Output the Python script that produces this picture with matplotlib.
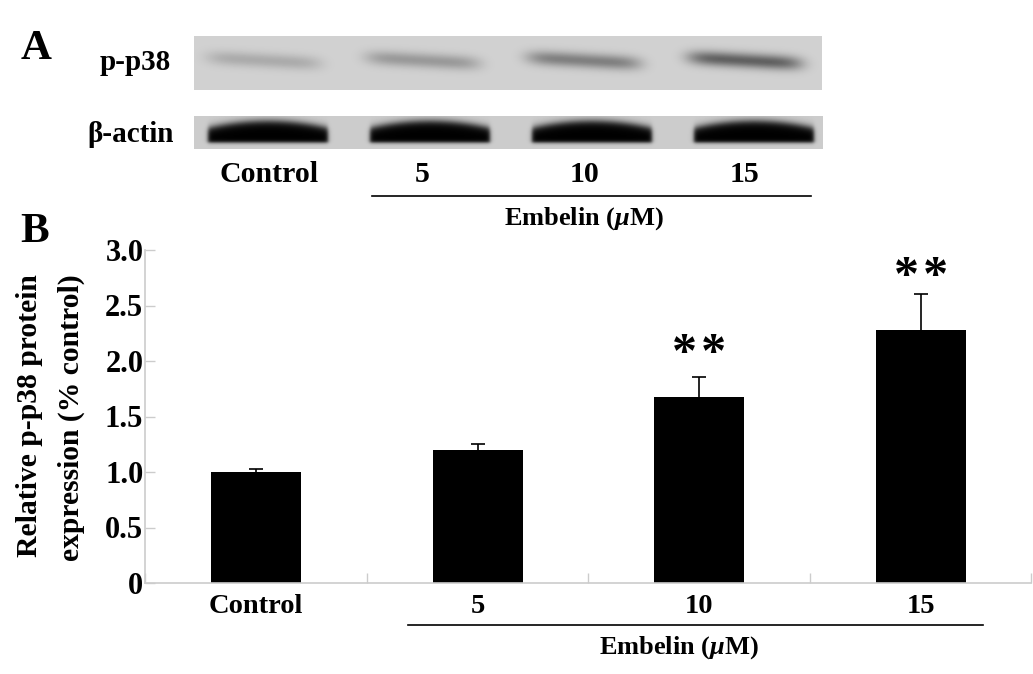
import matplotlib
matplotlib.use('Agg')
import matplotlib.pyplot as plt
import numpy as np

plt.rcParams['font.family'] = ['Liberation Serif', 'DejaVu Serif']
plt.rcParams['font.weight'] = 'bold'
plt.rcParams['mathtext.fontset'] = 'custom'
plt.rcParams['mathtext.rm'] = 'Liberation Serif:bold'
plt.rcParams['mathtext.it'] = 'Liberation Serif:italic:bold'
plt.rcParams['mathtext.bf'] = 'Liberation Serif:bold'

# bar chart values
categories = ['Control', '5', '10', '15']
means = [1.0, 1.2, 1.675, 2.28]
errors = [0.03, 0.05, 0.18, 0.32]
stars = ['', '', '*\u200a*', '*\u200a*']
star_gap = [0, 0, 0.285, 0.24]
yticks = [0, 0.5, 1.0, 1.5, 2.0, 2.5, 3.0]
ylabels = ['0', '0.5', '1.0', '1.5', '2.0', '2.5', '3.0']

# how dark each blot band is
pp38_dark = [0.15, 0.22, 0.32, 0.44]
actin_dark = [0.80, 0.80, 0.80, 0.80]

W, H = 1033, 674
fig = plt.figure(figsize=(W / 100, H / 100), dpi=100)

# whole figure axes in pixels, for the blots and loose text
over = fig.add_axes([0, 0, 1, 1])
over.set_xlim(0, W)
over.set_ylim(H, 0)
over.axis('off')


def soft(v, s):
    return 1 / (1 + np.exp(-v / s))


def pp38_strip(x0, x1, y0, y1, bg, centers, half_w, cy, half_h, tilt, dark):
    xx, yy = np.meshgrid(np.arange(x0, x1) + 0.5, np.arange(y0, y1) + 0.5)
    img = np.full(xx.shape, bg, dtype=float)
    for c, d in zip(centers, dark):
        ux = (xx - c) / half_w
        band = np.exp(-np.abs(ux) ** 6) * np.exp(-((yy - cy - tilt * ux) / half_h) ** 2)
        img = np.minimum(img, bg - d * band)
    over.imshow(img, extent=(x0, x1, y1, y0), cmap='gray', vmin=0, vmax=1,
                aspect='auto', interpolation='bilinear')


def actin_strip(x0, x1, y0, y1, bg, centers, half_w, top, bottom, dome, dark):
    xx, yy = np.meshgrid(np.arange(x0, x1) + 0.5, np.arange(y0, y1) + 0.5)
    img = np.full(xx.shape, bg, dtype=float)
    for c, d in zip(centers, dark):
        ux = (xx - c) / half_w
        edge = top + dome * ux ** 2
        band = soft(yy - edge, 2.2) * soft(bottom - yy, 1.0) * soft((1 - np.abs(ux)) * half_w, 1.2)
        img = np.minimum(img, bg - d * band)
    over.imshow(img, extent=(x0, x1, y1, y0), cmap='gray', vmin=0, vmax=1,
                aspect='auto', interpolation='bilinear')


pp38_strip(194, 822, 36, 90, 0.82, [264, 423, 584, 745], 57, 60.5, 7.5, 3.2, pp38_dark)
actin_strip(194, 823, 116, 149, 0.80, [268, 430, 592, 754], 60, 121, 142.5, 7, actin_dark)
over.set_xlim(0, W)
over.set_ylim(H, 0)

# panel letters
over.text(36, 49, 'A', fontsize=31, ha='center', va='center')
over.text(35, 232, 'B', fontsize=31, ha='center', va='center')

# panel A labels
over.text(135, 63, 'p-p38', fontsize=21, ha='center', va='center')
over.text(174, 135, 'β-actin', fontsize=21, ha='right', va='center')
for x, lab in zip([269, 422, 585, 745], categories):
    over.text(x, 174, lab, fontsize=21.5, ha='center', va='center')
over.plot([372, 811], [196, 196], color='black', lw=1.2)
over.text(584, 219, 'Embelin ($\\mu$M)', fontsize=19, ha='center', va='center')

# panel B labels under the bars
over.plot([408, 983], [625, 625], color='black', lw=1.2)
over.text(679, 648, 'Embelin ($\\mu$M)', fontsize=19, ha='center', va='center')
over.text(30, 416, 'Relative p-p38 protein', fontsize=21.3, rotation=90, ha='center', va='center')
over.text(71, 418, 'expression (% control)', fontsize=21.3, rotation=90, ha='center', va='center')

# bar chart
ax = fig.add_axes([145.4 / W, 1 - 583 / H, 886 / W, (583 - 250) / H])
ax.patch.set_alpha(0)
x = np.arange(len(categories))
ax.bar(x, means, width=0.405, color='black')
bars_err = ax.errorbar(x, means, yerr=[np.zeros(4), errors], fmt='none', ecolor='black',
                       elinewidth=1.2, capsize=5, capthick=1.2)
bars_err[1][0].set_visible(False)
ax.set_xlim(-0.5, 3.5)
ax.set_ylim(0, 3)

for s in ['top', 'right']:
    ax.spines[s].set_visible(False)
for s in ['left', 'bottom']:
    ax.spines[s].set_color('#cccccc')
    ax.spines[s].set_linewidth(1.2)

ax.set_yticks(yticks)
ax.set_yticklabels(ylabels, fontsize=22)
ax.set_xticks(np.arange(-0.5, 4, 1))
ax.set_xticklabels([])
ax.set_xticks(x, minor=True)
ax.set_xticklabels(categories, minor=True, fontsize=20.5)
ax.tick_params(axis='y', direction='in', length=7, width=1, color='#cccccc', pad=1.5)
ax.tick_params(axis='x', which='major', direction='in', length=7, width=1, color='#cccccc')
ax.tick_params(axis='x', which='minor', length=0, pad=8)

for xi, m, e, s, g in zip(x, means, errors, stars, star_gap):
    if s:
        ax.text(xi, m + e + g - 0.09, s, fontsize=36, ha='center', va='center')

fig.savefig('out.png', dpi=100)
